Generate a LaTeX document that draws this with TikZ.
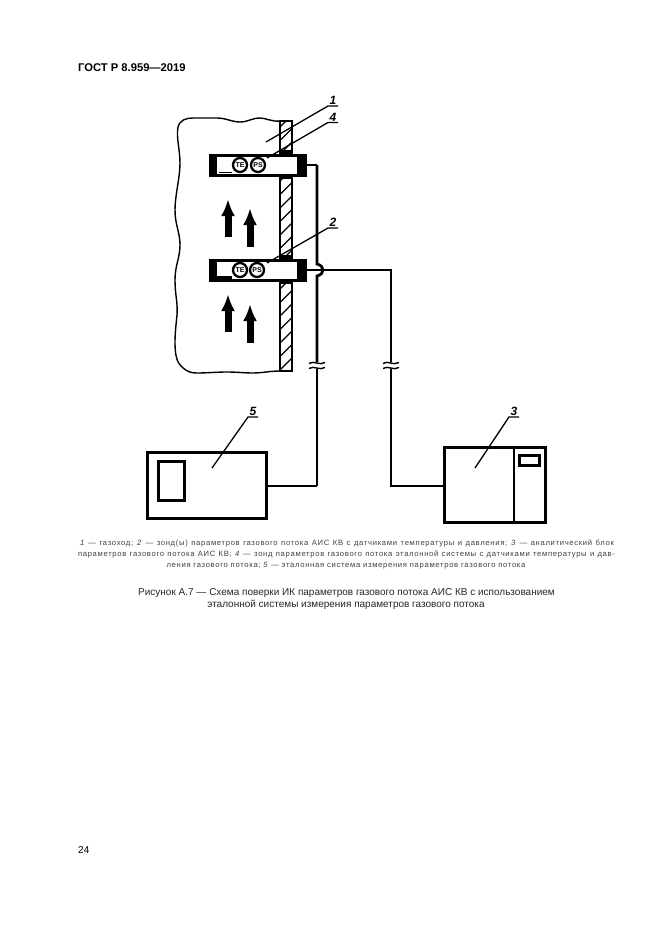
\documentclass[tikz,border=0pt]{standalone}
\usepackage{fontspec}
\setmainfont{Liberation Sans}
\newfontfamily\notefont[LetterSpace=9]{Liberation Sans}
\usetikzlibrary{arrows.meta}
\tikzset{
  wirethick/.style={line width=2.8pt,line join=miter},
  wirethin/.style={line width=2.1pt,line join=miter},
  leader/.style={line width=1.3pt},
  callout/.style={font=\bfseries\itshape\fontsize{12}{12}\selectfont,inner sep=0pt},
  devbox/.style={draw,line width=2.7pt,fill=white,inner sep=0pt,minimum width=0pt},
  gauge/.style={circle,draw,line width=2.3pt,fill=white,minimum size=14pt,inner sep=0pt,font=\bfseries\fontsize{7}{7}\selectfont},
  flowarrow/.style={line width=7pt,-{Latex[length=17pt,width=14pt]}},
  notetext/.style={anchor=base,inner sep=0pt,font=\notefont\fontsize{7.65}{7.65}\selectfont,text=black!75},
  captext/.style={anchor=base,inner sep=0pt,font=\fontsize{10}{10}\selectfont,text=black!85},
  probebar/.style={draw,line width=3pt,fill=white,minimum width=95pt,minimum height=20pt,inner sep=0pt}
}
\begin{document}
\begin{tikzpicture}[x=1pt,y=-1pt]
\useasboundingbox (0,0) rectangle (661,935);
% header / footer
\node[anchor=base west,inner sep=0pt,font=\bfseries\fontsize{11.2}{11.2}\selectfont] (hdr) at (78,71) {ГОСТ Р 8.959—2019};
\node[anchor=base west,inner sep=0pt,font=\fontsize{10}{10}\selectfont] (pg) at (78,853) {24};
% duct outline
\draw[line width=1.4pt] (280,121) .. controls (272,122) and (266,118) .. (260,118)
  .. controls (252,118) and (248,122) .. (240,122)
  .. controls (232,122) and (226,118) .. (217,118)
  .. controls (208,118) and (200,118) .. (193,118)
  .. controls (186,118) and (180,120) .. (178,127)
  .. controls (176,137) and (180,150) .. (180,163)
  .. controls (180,178) and (175,195) .. (175,210)
  .. controls (175,225) and (180,232) .. (180,245)
  .. controls (180,258) and (175,265) .. (175,280)
  .. controls (175,295) and (178,303) .. (177,315)
  .. controls (176,325) and (175,333) .. (175,343)
  .. controls (175,355) and (177,363) .. (182,367)
  .. controls (187,372) and (192,373) .. (197,373)
  .. controls (207,373) and (217,372) .. (227,372)
  .. controls (237,372) and (245,373) .. (253,373)
  .. controls (262,373) and (270,371) .. (280,371);
% wall
\begin{scope}
\clip (280,121) rectangle (292,371);
\foreach \k in {0,...,19}{
  \draw[line width=1.4pt] (278,{129+13.5*\k}) -- (294,{113+13.5*\k});
}
\end{scope}
\draw[line width=1.6pt] (280,121) rectangle (292,371);
% lugs
\foreach \yy in {151.5,177,256.5,282}{
  \fill (280,\yy-1.5) rectangle (293,\yy+2);
}
% probe 1
\node[probebar] (probeA) at (257.5,165) {};
\fill (208.5,153.5) rectangle (217,176.5);
\fill (297,153.5) rectangle (306.5,176.5);
\node[gauge] (te1) at (240,165) {TE};
\node[gauge] (ps1) at (258,165) {PS};
\draw[line width=1.5pt] (219,172.5) -- (232,172.5);
% probe 2
\node[probebar] (probeB) at (257.5,270) {};
\fill (208.5,258.5) rectangle (217,281.5);
\fill (297,258.5) rectangle (306.5,281.5);
\node[gauge] (te2) at (240,270) {TE};
\node[gauge] (ps2) at (257,270) {PS};
\fill (217,276) rectangle (232,281);
% flow arrows
\coordinate (fa1s) at (228,237); \coordinate (fa1e) at (228,199);
\coordinate (fa2s) at (250,247); \coordinate (fa2e) at (250,208);
\coordinate (fa3s) at (228,332); \coordinate (fa3e) at (228,294);
\coordinate (fa4s) at (250,343); \coordinate (fa4e) at (250,304);
\draw[flowarrow] (fa1s) -- (fa1e);
\draw[flowarrow] (fa2s) -- (fa2e);
\draw[flowarrow] (fa3s) -- (fa3e);
\draw[flowarrow] (fa4s) -- (fa4e);
% devices
\node[devbox,minimum width=119pt,minimum height=66pt] (box5) at (207,485.5) {};
\node[draw,line width=2.7pt,minimum width=26pt,minimum height=39pt,inner sep=0pt] (disp5) at (171.5,481) {};
\node[devbox,minimum width=101pt,minimum height=75pt] (box3) at (495,485) {};
\draw[line width=2pt] (514,447) -- (514,523);
\node[draw,line width=2.2pt,minimum width=20pt,minimum height=10pt,inner sep=0pt] (disp3) at (529.5,460.5) {};
% wires
\coordinate (w1a) at (317,165);
\coordinate (w1hopa) at (317,264);
\coordinate (w1hopb) at (317,276);
\coordinate (w1brk) at (317,362);
\coordinate (w1brk2) at (317,369);
\coordinate (w1c) at (317,486);
\coordinate (w2a) at (391,270);
\coordinate (w2brk) at (391,362);
\coordinate (w2brk2) at (391,369);
\coordinate (w2c) at (391,486);
\draw[wirethin] (probeA.east |- w1a) -- (w1a);
\draw[wirethick] (w1a) -- (w1hopa) .. controls (325,266) and (325,274) .. (w1hopb) -- (w1brk);
\draw[wirethick] (w1brk2) -- (w1c);
\draw[wirethin] (box5.east |- w1c) -- (w1c);
\draw[wirethin] (probeB.east |- w2a) -- (w2a) -- (w2brk);
\draw[wirethin] (w2brk2) -- (w2c) -- (box3.west |- w2c);
% break marks
\foreach \bx in {317,391}{
  \draw[line width=1.4pt] (\bx-8,363.5) .. controls (\bx-3,360) and (\bx+2,366) .. (\bx+8,362.5);
  \draw[line width=1.4pt] (\bx-8,368.5) .. controls (\bx-3,365) and (\bx+2,371) .. (\bx+8,367.5);
}
% callouts
\node[callout] (c1) at (333,100.5) {1};
\node[callout] (c4) at (333,117) {4};
\node[callout] (c2) at (333,222) {2};
\node[callout] (c5) at (253,411) {5};
\node[callout] (c3) at (514,411) {3};
\coordinate (t1) at (266,142); \coordinate (t4) at (267,158);
\coordinate (t2) at (267,263); \coordinate (t5) at (212,468); \coordinate (t3) at (475,468);
\draw[leader] (338,106) -- (328,106) -- (t1);
\draw[leader] (338,122.5) -- (328,122.5) -- (t4);
\draw[leader] (338,228) -- (328,228) -- (t2);
\draw[leader] (258,417) -- (248,417) -- (t5);
\draw[leader] (519,417) -- (509,417) -- (t3);
% note
\node[notetext] (n1) at (347,545.5) {\makebox[534pt][s]{\textit{1} — газоход; \textit{2} — зонд(ы) параметров газового потока АИС КВ с датчиками температуры и давления; \textit{3} — аналитический блок}};
\node[notetext] (n2) at (346.5,556.5) {\makebox[537pt][s]{параметров газового потока АИС КВ; \textit{4} — зонд параметров газового потока эталонной системы с датчиками температуры и дав-}};
\node[notetext] (n3) at (346,567.5) {ления газового потока; \textit{5} — эталонная система измерения параметров газового потока};
\node[captext] (cap1) at (346.5,595) {Рисунок А.7 — Схема поверки ИК параметров газового потока АИС КВ с использованием};
\node[captext] (cap2) at (346,607) {эталонной системы измерения параметров газового потока};
\end{tikzpicture}
\end{document}
